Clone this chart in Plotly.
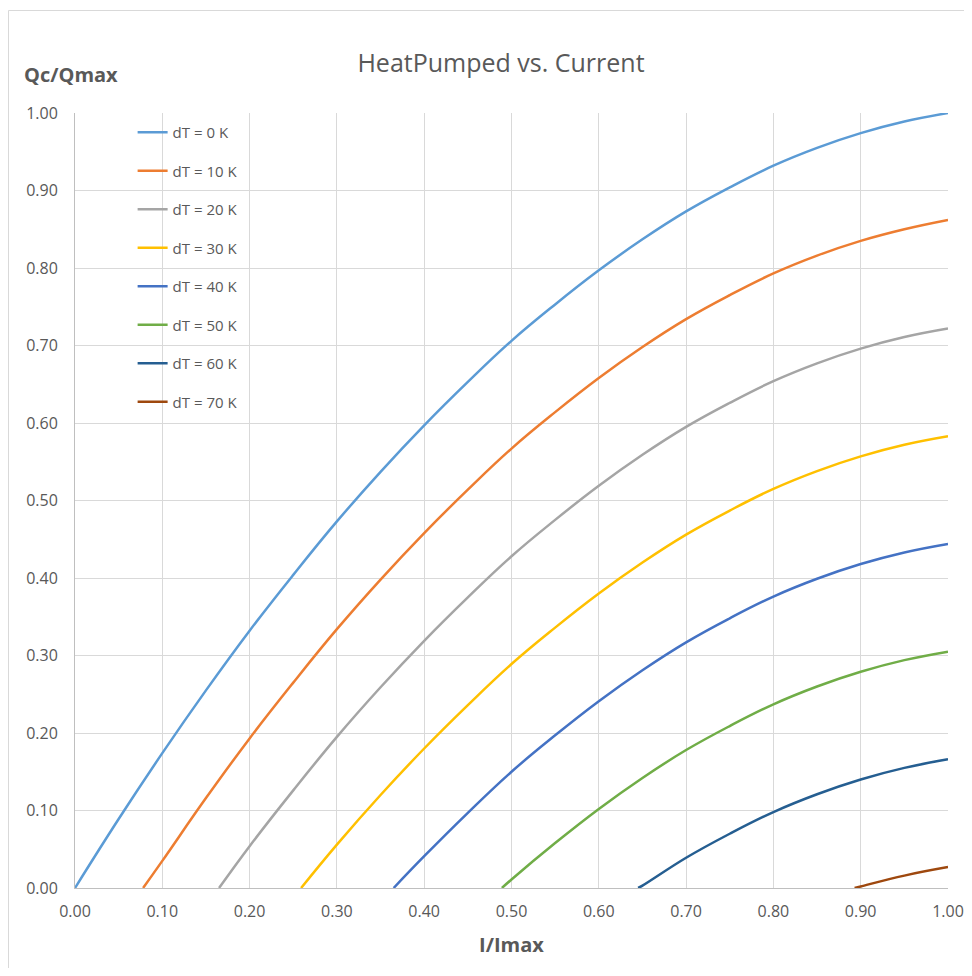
import plotly.graph_objects as go

# Values (I/Imax -> Qc/Qmax)
names = ["dT = 0 K", "dT = 10 K", "dT = 20 K", "dT = 30 K",
         "dT = 40 K", "dT = 50 K", "dT = 60 K", "dT = 70 K"]
colors = ["#5B9BD5", "#ED7D31", "#A5A5A5", "#FFC000",
          "#4472C4", "#70AD47", "#255E91", "#9E480E"]

x_dt0 = [0.0, 0.05, 0.1, 0.15, 0.2, 0.25, 0.3, 0.35, 0.4, 0.45, 0.5,
         0.55, 0.6, 0.65, 0.7, 0.75, 0.8, 0.85, 0.9, 0.95, 1.0]
y_dt0 = [0.0, 0.089, 0.174, 0.255, 0.332, 0.404, 0.473, 0.537, 0.597, 0.653, 0.706,
         0.753, 0.797, 0.837, 0.873, 0.904, 0.932, 0.955, 0.974, 0.989, 1.000]

x_dt10 = [0.078, 0.1, 0.15, 0.2, 0.25, 0.3, 0.35, 0.4, 0.45, 0.5,
          0.55, 0.6, 0.65, 0.7, 0.75, 0.8, 0.85, 0.9, 0.95, 1.0]
y_dt10 = [0.0, 0.035, 0.116, 0.193, 0.265, 0.334, 0.398, 0.458, 0.514, 0.567,
          0.614, 0.658, 0.698, 0.734, 0.765, 0.793, 0.816, 0.835, 0.850, 0.862]

x_dt20 = [0.165, 0.2, 0.25, 0.3, 0.35, 0.4, 0.45, 0.5,
          0.55, 0.6, 0.65, 0.7, 0.75, 0.8, 0.85, 0.9, 0.95, 1.0]
y_dt20 = [0.0, 0.054, 0.126, 0.195, 0.259, 0.319, 0.375, 0.428,
          0.475, 0.519, 0.559, 0.595, 0.626, 0.654, 0.677, 0.696, 0.711, 0.722]

x_dt30 = [0.259, 0.3, 0.35, 0.4, 0.45, 0.5,
          0.55, 0.6, 0.65, 0.7, 0.75, 0.8, 0.85, 0.9, 0.95, 1.0]
y_dt30 = [0.0, 0.056, 0.120, 0.180, 0.236, 0.289,
          0.336, 0.380, 0.420, 0.456, 0.487, 0.515, 0.538, 0.557, 0.572, 0.583]

x_dt40 = [0.365, 0.4, 0.45, 0.5, 0.55, 0.6, 0.65, 0.7, 0.75, 0.8, 0.85, 0.9, 0.95, 1.0]
y_dt40 = [0.0, 0.041, 0.097, 0.150, 0.197, 0.241, 0.281, 0.317, 0.348, 0.376, 0.399, 0.418, 0.433, 0.444]

x_dt50 = [0.489, 0.5, 0.55, 0.6, 0.65, 0.7, 0.75, 0.8, 0.85, 0.9, 0.95, 1.0]
y_dt50 = [0.0, 0.011, 0.058, 0.102, 0.142, 0.178, 0.209, 0.237, 0.260, 0.279, 0.294, 0.305]

x_dt60 = [0.645, 0.65, 0.7, 0.75, 0.8, 0.85, 0.9, 0.95, 1.0]
y_dt60 = [0.0, 0.003, 0.039, 0.070, 0.098, 0.121, 0.140, 0.155, 0.166]

x_dt70 = [0.893, 0.9, 0.95, 1.0]
y_dt70 = [0.0, 0.002, 0.016, 0.027]

xs = [x_dt0, x_dt10, x_dt20, x_dt30, x_dt40, x_dt50, x_dt60, x_dt70]
ys = [y_dt0, y_dt10, y_dt20, y_dt30, y_dt40, y_dt50, y_dt60, y_dt70]

x_ticks = [0.0, 0.1, 0.2, 0.3, 0.4, 0.5, 0.6, 0.7, 0.8, 0.9, 1.0]
y_ticks = [0.0, 0.1, 0.2, 0.3, 0.4, 0.5, 0.6, 0.7, 0.8, 0.9, 1.0]

FONT = "Open Sans"
GRAY = "#595959"

fig = go.Figure()
for i, (n, c, xv, yv) in enumerate(zip(names, colors, xs, ys)):
    fig.add_trace(go.Scatter(
        x=xv, y=yv, name=n, mode="lines",
        line=dict(color=c, width=2.5, shape="spline", smoothing=1.2),
        legendgroup=f"g{i}",
    ))

# page body has an 8px margin: figure occupies (8..964, 8..968) of the window
W, H = 956, 960
L, R, T, B = 67, 16, 105, 80
pw, ph = W - L - R, H - T - B

fig.update_layout(
    width=W, height=H, autosize=False,
    margin=dict(l=L, r=R, t=T, b=B, autoexpand=False),
    paper_bgcolor="white", plot_bgcolor="white",
    font=dict(family=FONT, color=GRAY),
    title=dict(text="HeatPumped vs. Current", x=493 / W, xref="container",
               xanchor="center", y=1 - 55 / H, yref="container", yanchor="middle",
               font=dict(size=25, color=GRAY, family=FONT)),
    xaxis=dict(range=[0, 1], tickvals=x_ticks, automargin=False,
               ticktext=[f"{v:.2f}" for v in x_ticks],
               showgrid=True, gridcolor="#D9D9D9", gridwidth=1,
               zeroline=False, showline=True, linecolor="#BFBFBF", linewidth=1,
               ticks="", ticklabelstandoff=9,
               tickfont=dict(size=16, color=GRAY, family=FONT),
               title=dict(text="<b>I/Imax</b>", standoff=16,
                          font=dict(size=20, color=GRAY, family=FONT))),
    yaxis=dict(range=[0, 1], tickvals=y_ticks, automargin=False,
               ticktext=[f"{v:.2f}" for v in y_ticks],
               showgrid=True, gridcolor="#D9D9D9", gridwidth=1,
               zeroline=False, showline=True, linecolor="#BFBFBF", linewidth=1,
               ticks="", ticklabelstandoff=13,
               tickfont=dict(size=16, color=GRAY, family=FONT)),
    legend=dict(x=0.066, y=0.996, xanchor="left", yanchor="top",
                bgcolor="rgba(255,255,255,0)", tracegroupgap=16,
                font=dict(size=15, color=GRAY, family=FONT)),
    showlegend=True,
)

fig.add_annotation(text="<b>Qc/Qmax</b>", xref="paper", yref="paper",
                   x=(14 - L) / pw, y=(H - B - 67) / ph,
                   xanchor="left", yanchor="middle", showarrow=False,
                   font=dict(size=20, color=GRAY, family=FONT))

# chart frame (light border around the chart area)
fig.add_shape(type="rect", xref="paper", yref="paper",
              x0=(0.5 - L) / pw, x1=(W + 10 - L) / pw,
              y0=(H - B - (H + 10)) / ph, y1=(H - B - 2.5) / ph,
              line=dict(color="#D9D9D9", width=1), fillcolor="rgba(0,0,0,0)",
              layer="below")

fig.write_html("out.html")
